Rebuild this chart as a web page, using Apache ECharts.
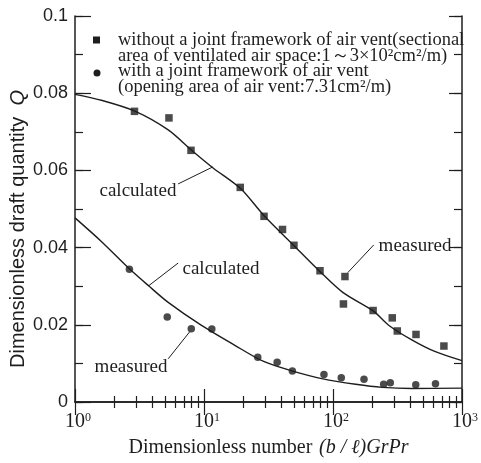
<!DOCTYPE html>
<html>
<head>
<meta charset="utf-8">
<script src="https://cdn.jsdelivr.net/npm/echarts@6/dist/echarts.min.js"></script>
<style>
html, body { margin: 0; padding: 0; background: #fff; }
#chart { width: 481px; height: 463px; }
</style>
</head>
<body>
<div id="chart"></div>
<script>
// measured points, without joint framework (squares)
const squareX = [2.89, 5.35, 7.93, 19.1, 29.2, 40.6, 49.8, 79.3, 123.8, 120.5, 204.6, 288, 315, 440, 724];
const squareY = [0.0753, 0.0736, 0.0652, 0.0556, 0.0481, 0.0447, 0.0406, 0.0340, 0.0325, 0.0254, 0.0237, 0.0218, 0.0184, 0.0175, 0.0145];
// measured points, with joint framework (circles)
const circleX = [2.64, 5.19, 7.97, 11.5, 26.1, 36.9, 48.4, 85.1, 115.9, 173.9, 247, 278, 438, 623];
const circleY = [0.0344, 0.0220, 0.0190, 0.0189, 0.0116, 0.0103, 0.0080, 0.0071, 0.0063, 0.0059, 0.0046, 0.0050, 0.0045, 0.0047];
// calculated curves
const calcUpperX = [1, 1.63, 2.94, 5.28, 7.97, 11.7, 19.2, 29.0, 49.2, 78.7, 119, 205, 270, 408, 615, 1000];
const calcUpperY = [0.0797, 0.0781, 0.0753, 0.0705, 0.0653, 0.0607, 0.0553, 0.0484, 0.0407, 0.0339, 0.0284, 0.0236, 0.0199, 0.0161, 0.0131, 0.0107];
const calcLowerX = [1, 1.6, 2.64, 3.72, 5.28, 9.5, 17.1, 29, 48.7, 83.6, 150, 240, 408, 1000];
const calcLowerY = [0.0477, 0.0416, 0.0345, 0.0301, 0.0258, 0.0199, 0.0148, 0.0105, 0.0080, 0.0060, 0.0046, 0.0038, 0.0035, 0.0036];

// tick values
const xMajorTicks = [1, 10, 100, 1000];
const xMinorTicks = [2, 3, 4, 5, 6, 7, 8, 9, 20, 30, 40, 50, 60, 70, 80, 90, 200, 300, 400, 500, 600, 700, 800, 900];

// leader lines of the annotations (data coords)
const leaderLines = [
  [[6.30, 0.0565], [11.7, 0.0609]],
  [[6.30, 0.0360], [3.72, 0.0301]],
  [[5.28, 0.0112], [7.75, 0.0182]],
  [[207, 0.0407], [130, 0.0335]]
];

const ink = '#1e1e1e';
const serif = '"Liberation Serif", "DejaVu Serif", serif';
const sans = '"Liberation Sans", Arial, sans-serif';

const zip = (xs, ys) => xs.map((x, i) => [x, ys[i]]);

const chart = echarts.init(document.getElementById('chart'));

function xAxisDef(position, ticks, len, main) {
  return {
    type: 'log',
    logBase: 10,
    min: 1,
    max: 1000,
    position: position,
    axisLine: { show: main, lineStyle: { color: ink, width: 1.5 } },
    axisTick: { show: true, inside: true, length: len, customValues: ticks, lineStyle: { color: ink, width: 1.2 } },
    axisLabel: { show: false },
    splitLine: { show: false },
    minorTick: { show: false }
  };
}

function yAxisDef(position, interval, len, main) {
  return {
    type: 'value',
    min: 0,
    max: 0.1,
    interval: interval,
    position: position,
    axisLine: { show: main, lineStyle: { color: ink, width: 1.5 } },
    axisTick: { show: true, inside: true, length: len, lineStyle: { color: ink, width: 1.2 } },
    axisLabel: { show: false },
    splitLine: { show: false }
  };
}

const xBottom = xAxisDef('bottom', xMajorTicks, 13, true);
xBottom.axisLabel = {
  show: true,
  customValues: xMajorTicks,
  margin: 10,
  formatter: v => '{b|10}{s|' + Math.round(Math.log10(v)) + '}',
  rich: {
    b: { fontSize: 20, fontFamily: serif, color: ink, padding: [0, 0, 0, 6] },
    s: { fontSize: 12, fontFamily: serif, color: ink, verticalAlign: 'top' }
  }
};
xBottom.name = '{n|Dimensionless number}  {i|(b / ℓ)GrPr}';
xBottom.nameLocation = 'middle';
xBottom.nameGap = 36;
xBottom.nameTextStyle = {
  rich: {
    n: { fontSize: 20, fontFamily: serif, color: ink },
    i: { fontSize: 20, fontFamily: serif, fontStyle: 'italic', color: ink }
  }
};

const yLeft = yAxisDef('left', 0.02, 16, true);
yLeft.axisLabel = { show: true, margin: 7, fontSize: 18, fontFamily: sans, color: ink };

const legendFont = '18.5px ' + serif;
const noteFont = '19px ' + serif;

const option = {
  animation: false,
  backgroundColor: '#fff',
  grid: { left: 75, right: 14, top: 16, bottom: 56 },
  xAxis: [
    xBottom,
    xAxisDef('bottom', xMinorTicks, 6, false),
    xAxisDef('top', xMajorTicks, 13, true),
    xAxisDef('top', xMinorTicks, 6, false)
  ],
  yAxis: [
    yLeft,
    yAxisDef('left', 0.01, 8, false),
    yAxisDef('right', 0.02, 13, true),
    yAxisDef('right', 0.01, 8, false)
  ],
  series: [
    {
      name: 'calculated (without)',
      type: 'line',
      data: zip(calcUpperX, calcUpperY),
      smooth: 0.3,
      showSymbol: false,
      lineStyle: { color: ink, width: 1.4 },
      markLine: {
        silent: true,
        symbol: ['none', 'none'],
        label: { show: false },
        lineStyle: { color: ink, width: 1, type: 'solid' },
        data: leaderLines.map(l => [{ coord: l[0] }, { coord: l[1] }])
      }
    },
    {
      name: 'calculated (with)',
      type: 'line',
      data: zip(calcLowerX, calcLowerY),
      smooth: 0.3,
      showSymbol: false,
      lineStyle: { color: ink, width: 1.4 }
    },
    {
      name: 'without a joint framework of air vent',
      type: 'scatter',
      symbol: 'rect',
      symbolSize: 7.5,
      itemStyle: { color: ink },
      data: zip(squareX, squareY)
    },
    {
      name: 'with a joint framework of air vent',
      type: 'scatter',
      symbol: 'circle',
      symbolSize: 7.5,
      itemStyle: { color: ink },
      data: zip(circleX, circleY)
    }
  ],
  graphic: [
    // legend
    { type: 'rect', shape: { x: 93, y: 36.5, width: 7, height: 7 }, style: { fill: ink } },
    { type: 'circle', shape: { cx: 97, cy: 73, r: 3.5 }, style: { fill: ink } },
    { type: 'text', x: 118, y: 40, style: { text: 'without a joint framework of air vent(sectional', font: legendFont, fill: ink, align: 'left', verticalAlign: 'middle' } },
    { type: 'text', x: 118, y: 56, style: { text: 'area of ventilated air space:1～3×10²cm²/m)', font: legendFont, fill: ink, align: 'left', verticalAlign: 'middle' } },
    { type: 'text', x: 118, y: 71.5, style: { text: 'with a joint framework of air vent', font: legendFont, fill: ink, align: 'left', verticalAlign: 'middle' } },
    { type: 'text', x: 118, y: 87, style: { text: '(opening area of air vent:7.31cm²/m)', font: legendFont, fill: ink, align: 'left', verticalAlign: 'middle' } },
    // annotations
    { type: 'text', x: 138, y: 191, style: { text: 'calculated', font: noteFont, fill: ink, align: 'center', verticalAlign: 'middle' } },
    { type: 'text', x: 221, y: 269, style: { text: 'calculated', font: noteFont, fill: ink, align: 'center', verticalAlign: 'middle' } },
    { type: 'text', x: 131, y: 367, style: { text: 'measured', font: noteFont, fill: ink, align: 'center', verticalAlign: 'middle' } },
    { type: 'text', x: 415, y: 246.5, style: { text: 'measured', font: noteFont, fill: ink, align: 'center', verticalAlign: 'middle' } },
    // y axis name
    {
      type: 'text', x: 18, y: 229, rotation: Math.PI / 2,
      style: {
        text: 'Dimensionless draft quantity  {q|Q}',
        font: '20px ' + sans, fill: ink, align: 'center', verticalAlign: 'middle',
        rich: { q: { fontSize: 20, fontFamily: sans, fontStyle: 'italic', fill: ink } }
      }
    }
  ]
};

chart.setOption(option);
</script>
</body>
</html>
